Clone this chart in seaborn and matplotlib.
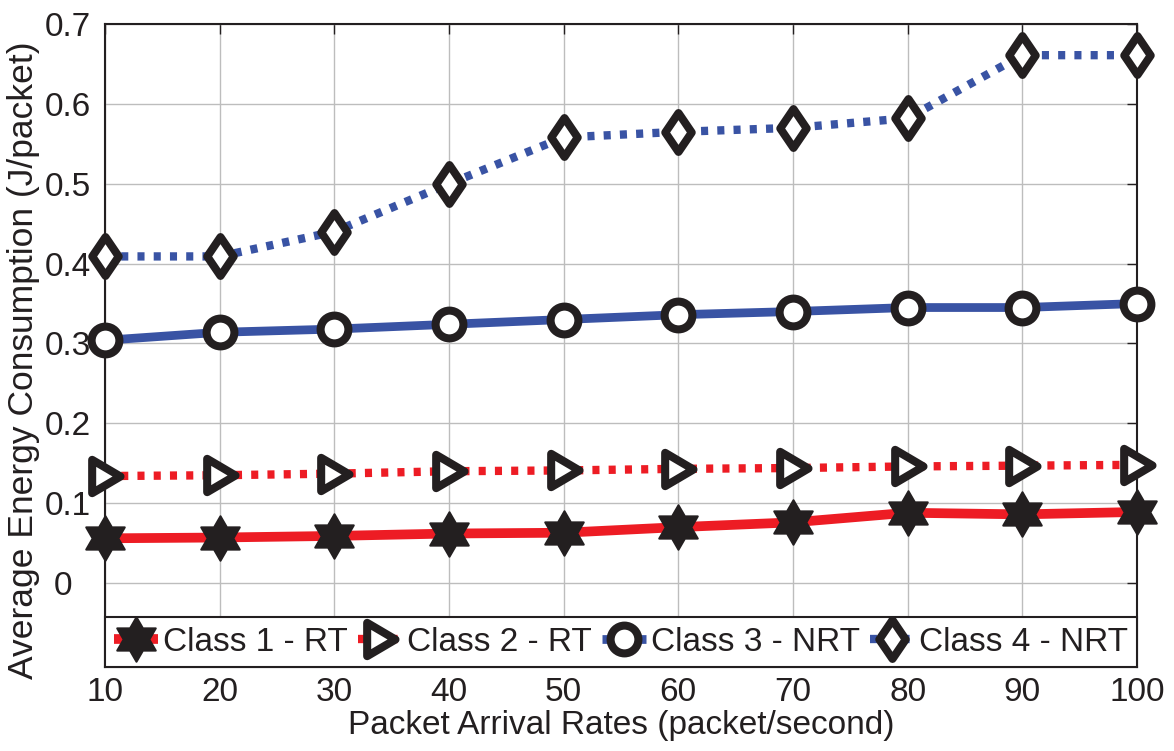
import numpy as np
import pandas as pd
import matplotlib
matplotlib.use("Agg")
import matplotlib.pyplot as plt
from matplotlib.path import Path
from matplotlib.markers import MarkerStyle
import seaborn as sns

# ---- data ----
rates = [10, 20, 30, 40, 50, 60, 70, 80, 90, 100]
class1_rt = [0.056, 0.057, 0.059, 0.062, 0.063, 0.070, 0.076, 0.088, 0.086, 0.089]
class2_rt = [0.134, 0.135, 0.137, 0.140, 0.141, 0.143, 0.144, 0.146, 0.147, 0.148]
class3_nrt = [0.304, 0.314, 0.318, 0.324, 0.330, 0.336, 0.340, 0.345, 0.345, 0.350]
class4_nrt = [0.409, 0.409, 0.440, 0.500, 0.558, 0.565, 0.570, 0.582, 0.661, 0.661]
labels = ["Class 1 - RT", "Class 2 - RT", "Class 3 - NRT", "Class 4 - NRT"]
yticks = [0, 0.1, 0.2, 0.3, 0.4, 0.5, 0.6, 0.7]
ytick_labels = ["0  ", "0.1", "0.2", "0.3", "0.4", "0.5", "0.6", "0.7"]

sns.set_theme(style="white")
plt.rcParams['font.family'] = ['Liberation Sans', 'DejaVu Sans']

# custom markers (MATLAB-like hexagram, right triangle, diamond)
ang = np.deg2rad(np.arange(12) * 30 + 90)
rad = np.array([0.5 if i % 2 == 0 else 0.5 / np.sqrt(3) for i in range(12)])
hx = list(zip(rad * np.cos(ang), rad * np.sin(ang)))
hexagram = MarkerStyle(Path(hx + [hx[0]], [Path.MOVETO] + [Path.LINETO] * 11 + [Path.CLOSEPOLY]),
                       joinstyle="miter")
tri = MarkerStyle(Path([(-0.4, 0.5), (0.45, 0.0), (-0.4, -0.5), (-0.4, 0.5)],
                       [Path.MOVETO, Path.LINETO, Path.LINETO, Path.CLOSEPOLY]),
                  joinstyle="miter")
dia = MarkerStyle(Path([(0, 0.5), (0.34, 0), (0, -0.5), (-0.34, 0), (0, 0.5)],
                       [Path.MOVETO, Path.LINETO, Path.LINETO, Path.LINETO, Path.CLOSEPOLY]),
                  joinstyle="miter")

red = "#ED1C24"
blue = "#3953A4"
ink = "#231F20"
dotted = (0, (0.85, 1.1))

series = [
    (class1_rt, red, "-", hexagram, 32, 1.5, ink, 7.0),
    (class2_rt, red, dotted, tri, 24, 5.8, "white", 6.0),
    (class3_nrt, blue, "-", "o", 20, 5.8, "white", 6.3),
    (class4_nrt, blue, dotted, dia, 28, 5.8, "white", 6.0),
]

fig = plt.figure(figsize=(11.74, 7.51), dpi=100)
ax = fig.add_axes([0.0894, 0.112, 0.879, 0.856])

for (vals, col, ls, mk, ms, mew, mfc, lw), lab in zip(series, labels):
    df = pd.DataFrame({"x": rates, "y": vals})
    sns.lineplot(data=df, x="x", y="y", ax=ax, color=col, linestyle=ls, linewidth=lw,
                 marker=mk, markersize=ms, markeredgewidth=mew,
                 markerfacecolor=mfc, markeredgecolor=ink,
                 label=lab, clip_on=False, zorder=5)
for l in ax.get_lines():
    l.set_dash_capstyle("butt")
    l.set_solid_capstyle("butt")

ax.set_xlim(10, 100)
ax.set_ylim(-0.105, 0.7)
ax.set_xticks(rates)
ax.set_xticklabels([str(r) for r in rates])
ax.set_yticks(yticks)
ax.set_yticklabels(ytick_labels)
ax.grid(True, color="#bdbdbd", linewidth=1.0)
ax.set_axisbelow(True)
for s in ax.spines.values():
    s.set_color(ink)
    s.set_linewidth(1.5)
ax.tick_params(axis="both", which="both", direction="in", length=7, width=1.0,
               top=True, right=True, labelsize=24, colors=ink)
ax.tick_params(axis="x", pad=7)
ax.tick_params(axis="y", pad=10)
ax.set_xlabel("Packet Arrival Rates (packet/second)", fontsize=24, color=ink, labelpad=2)
ax.set_ylabel("Average Energy Consumption (J/packet)", fontsize=25.5, color=ink)
ax.yaxis.set_label_coords(-0.063, 0.4775)

leg = ax.legend(loc="lower left", bbox_to_anchor=(0, 0, 1, 0.078), mode="expand",
                ncol=4, fontsize=24, frameon=True, fancybox=False, borderaxespad=0,
                handlelength=1.32, handletextpad=0.15, columnspacing=0.3,
                borderpad=0.28, labelspacing=0.1)
leg.get_frame().set_edgecolor(ink)
leg.get_frame().set_linewidth(1.5)
leg.get_frame().set_alpha(1)
leg.set_zorder(20)
for t in leg.get_texts():
    t.set_color(ink)

fig.savefig("out.png", dpi=100)
